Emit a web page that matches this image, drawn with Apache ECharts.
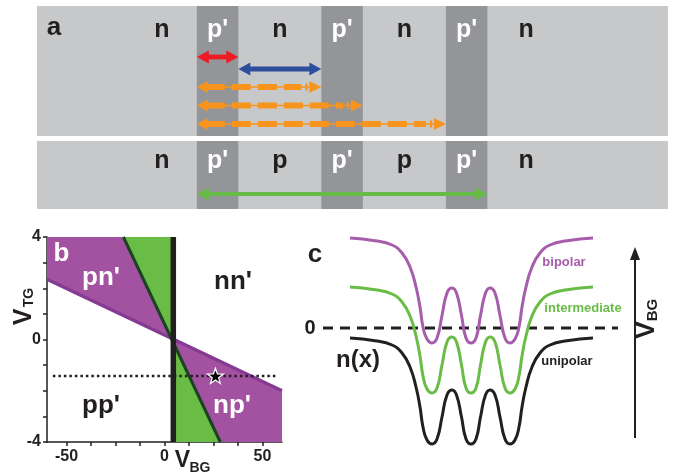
<!DOCTYPE html>
<html><head><meta charset="utf-8">
<script src="https://cdn.jsdelivr.net/npm/echarts@6/dist/echarts.min.js"></script>
<style>html,body{margin:0;padding:0;background:#fff}#c{width:673px;height:476px}</style>
</head><body><div id="c"></div>
<script>
// ---------- Panel a: device schematic (x in units of barrier width, y in rows) ----------
const devBars = [[-3.85, 11.35, 0, 13.0], [-3.85, 11.35, 13.5, 20.3]];
const devStripes = [[0, 1], [3, 4], [6, 7]];
const rowTopLabels = ['n', "p'", 'n', "p'", 'n', "p'", 'n'];
const rowBottomLabels = ['n', "p'", 'p', "p'", 'p', "p'", 'n'];
const labelX = [-0.84, 0.5, 2.0, 3.5, 5.0, 6.5, 7.93];
const labelRowY = [2.4, 15.5];
const solidArrows = [[0, 1, 5.1], [1, 3, 6.3], [0, 7, 18.8]];
const solidArrowColors = ['#ed1c24', '#2d4d9d', '#66bb46'];
const dashedArrows = [[0, 3, 8.1], [0, 4, 9.95], [0, 6, 11.8]];

// ---------- Panel b: phase diagram V_TG vs V_BG ----------
const vbgTicks = [-50, -37.5, -25, -12.5, 0, 12.5, 25, 37.5, 50];
const vbgLabels = [-50, 0, 50];
const vtgLabels = [4, 0, -4];
const blackLine = [[4.5, -4], [4.5, 4]];
const greenBoundary = [[-21, 4], [28.5, -4]];
const purpleBoundary = [[-60, 2.35], [60, -2.0]];
const purpleRegions = [
  [[-60, 4], [-21, 4], [3.4, 0.05], [-60, 2.35]],
  [[3.4, 0.05], [60, -2.0], [60, -4], [28.5, -4]]
];
const greenRegions = [
  [[-21, 4], [4.5, 4], [4.5, -0.12], [3.4, 0.05]],
  [[4.5, -0.12], [4.5, -4], [28.5, -4]]
];
const cutLine = [[-57, -1.42], [58, -1.42]];
const starPoint = [26, -1.42];

// ---------- Panel c: density profiles n(x) ----------
const profileX = [6.0, 8.5, 10.2, 11.2, 12.0, 12.6, 13.0, 13.3, 13.7, 14.2,
  14.7, 15.2, 15.7, 16.2, 16.65, 17.15, 17.6, 18.1, 18.6, 19.05, 19.55, 20.0, 20.5, 21.0, 21.5, 22.0,
  22.5, 22.9, 23.2, 23.6, 24.2, 25.0, 26.0, 27.7, 30.3];
const unipolar = [-1.0, -1.27, -1.7, -2.5, -3.9, -5.9, -7.9, -9.9, -11.2, -11.6,
  -11.1, -8.9, -6.7, -6.2, -6.7, -8.9, -11.1, -11.6, -11.1, -8.9, -6.7, -6.2, -6.7, -8.9, -11.1, -11.6,
  -11.2, -9.9, -7.9, -5.9, -3.9, -2.5, -1.7, -1.27, -1.0];
const intermediate = [4.1, 3.83, 3.4, 2.6, 1.2, -0.8, -2.8, -4.8, -6.1, -6.5,
  -6.0, -3.7, -1.4, -0.9, -1.4, -3.7, -6.0, -6.5, -6.0, -3.7, -1.4, -0.9, -1.4, -3.7, -6.0, -6.5,
  -6.1, -4.8, -2.8, -0.8, 1.2, 2.6, 3.4, 3.83, 4.1];
const bipolar = [9.0, 8.73, 8.3, 7.5, 6.1, 4.1, 2.1, 0.1, -1.1, -1.5,
  -1.0, 1.25, 3.5, 4.0, 3.5, 1.25, -1.0, -1.5, -1.0, 1.25, 3.5, 4.0, 3.5, 1.25, -1.0, -1.5,
  -1.1, 0.1, 2.1, 4.1, 6.1, 7.5, 8.3, 8.73, 9.0];
const zeroLine = [[3.3, 0], [32.8, 0]];
const vbgArrow = [[34.5, -11.0], [34.5, 8.1]];

// ---------- rendering ----------
const FONT = '"Liberation Sans", Arial, Helvetica, sans-serif';
const BLK = '#231f20';
const PURPLE_FILL = '#a252a0', PURPLE_LINE = '#853a93', GREEN = '#69bc45', DKGREEN = '#1b4322';
const CURVE_PURPLE = '#a65dab';

const stripeRects = [];
devBars.forEach(b => devStripes.forEach(s => stripeRects.push([s[0], s[1], b[2], b[3]])));
const devLabels = [];
[rowTopLabels, rowBottomLabels].forEach((row, r) => row.forEach((t, i) => devLabels.push({t: t, x: labelX[i], y: labelRowY[r]})));

function rectRender(list, fill) {
  return function (params, api) {
    const d = list[params.dataIndex];
    const p0 = api.coord([d[0], d[2]]), p1 = api.coord([d[1], d[3]]);
    return {type: 'rect', shape: {x: Math.min(p0[0], p1[0]), y: Math.min(p0[1], p1[1]),
      width: Math.abs(p1[0] - p0[0]), height: Math.abs(p1[1] - p0[1])}, style: {fill: fill}};
  };
}
function polyRender(list, fill) {
  return function (params, api) {
    const pts = list[params.dataIndex].map(p => api.coord(p));
    return {type: 'polygon', shape: {points: pts}, style: {fill: fill}};
  };
}
function solidArrowRender(params, api) {
  const d = solidArrows[params.dataIndex], c = solidArrowColors[params.dataIndex];
  const p0 = api.coord([d[0], d[2]]), p1 = api.coord([d[1], d[2]]);
  const y = p0[1], x0 = p0[0], x1 = p1[0];
  const hl = 12, hh = 6.5, sw = params.dataIndex === 2 ? 2 : 2.4;
  return {type: 'group', children: [
    {type: 'rect', shape: {x: x0 + hl - 1, y: y - sw, width: x1 - x0 - 2 * hl + 2, height: 2 * sw}, style: {fill: c}},
    {type: 'polygon', shape: {points: [[x0, y], [x0 + hl, y - hh], [x0 + hl, y + hh]]}, style: {fill: c}},
    {type: 'polygon', shape: {points: [[x1, y], [x1 - hl, y - hh], [x1 - hl, y + hh]]}, style: {fill: c}}
  ]};
}
function dashedArrowRender(params, api) {
  const d = dashedArrows[params.dataIndex];
  const p0 = api.coord([d[0], d[2]]), p1 = api.coord([d[1], d[2]]);
  const y = p0[1], x0 = p0[0], x1 = p1[0];
  const c = '#f7941d';
  return {type: 'group', children: [
    {type: 'line', shape: {x1: x0 + 10, y1: y, x2: x1 - 12, y2: y}, style: {stroke: c, lineWidth: 1.3}},
    {type: 'line', shape: {x1: x0 + 9, y1: y, x2: x1 - 20, y2: y}, style: {stroke: c, lineWidth: 6, lineDash: [19, 7]}},
    {type: 'polygon', shape: {points: [[x0, y], [x0 + 11, y - 6], [x0 + 11, y + 6]]}, style: {fill: c}},
    {type: 'rect', shape: {x: x1 - 16, y: y - 3.5, width: 2.2, height: 7}, style: {fill: c}},
    {type: 'polygon', shape: {points: [[x1, y], [x1 - 12, y - 6], [x1 - 12, y + 6]]}, style: {fill: c}}
  ]};
}
function devLabelRender(params, api) {
  const d = devLabels[params.dataIndex];
  const p = api.coord([d.x, d.y]);
  return {type: 'text', x: p[0], y: p[1], style: {text: d.t, fill: d.t === "p'" ? '#ffffff' : BLK,
    font: 'bold 25px ' + FONT, align: 'center', verticalAlign: 'middle', textAlign: 'center', textVerticalAlign: 'middle'}};
}
function vArrowRender(params, api) {
  const p0 = api.coord(vbgArrow[0]), p1 = api.coord(vbgArrow[1]);
  const x = p0[0];
  return {type: 'group', children: [
    {type: 'line', shape: {x1: x, y1: p0[1], x2: x, y2: p1[1] + 10}, style: {stroke: BLK, lineWidth: 2}},
    {type: 'polygon', shape: {points: [[x, p1[1]], [x - 5, p1[1] + 13], [x + 5, p1[1] + 13]]}, style: {fill: BLK}}
  ]};
}

function txt(t, x, y, size, fill, extra) {
  return Object.assign({type: 'text', x: x, y: y, z: 100, style: {text: t, fill: fill || BLK, font: 'bold ' + size + 'px ' + FONT,
    align: 'center', verticalAlign: 'middle', textAlign: 'center', textVerticalAlign: 'middle'}}, extra || {});
}

const chart = echarts.init(document.getElementById('c'), null, {width: 673, height: 476});
const axisLineStyle = {color: BLK, width: 1.5};
chart.setOption({
  animation: false,
  backgroundColor: '#ffffff',
  grid: [
    {left: 37, top: 6, width: 631, height: 203, containLabel: false, outerBoundsMode: 'none'},
    {left: 47, top: 237, width: 235, height: 205, containLabel: false, outerBoundsMode: 'none'},
    {left: 290, top: 218, width: 383, height: 240, containLabel: false, outerBoundsMode: 'none'}
  ],
  xAxis: [
    {gridIndex: 0, type: 'value', min: -3.85, max: 11.35, show: false},
    {gridIndex: 1, type: 'value', min: -60, max: 60,
      axisLine: {show: true, onZero: false, lineStyle: axisLineStyle},
      axisTick: {show: true, customValues: vbgTicks, length: 4, lineStyle: axisLineStyle},
      axisLabel: {show: true, customValues: vbgLabels, color: BLK, fontFamily: FONT, fontWeight: 'bold', fontSize: 16, margin: 7},
      splitLine: {show: false}},
    {gridIndex: 2, type: 'value', min: 0, max: 38.3, show: false}
  ],
  yAxis: [
    {gridIndex: 0, type: 'value', min: 0, max: 20.3, inverse: true, show: false},
    {gridIndex: 1, type: 'value', min: -4, max: 4, interval: 1,
      axisLine: {show: true, onZero: false, lineStyle: axisLineStyle},
      axisTick: {show: true, length: 4, lineStyle: axisLineStyle},
      axisLabel: {show: true, showMinLabel: true, showMaxLabel: true, hideOverlap: false,
        formatter: v => vtgLabels.indexOf(v) >= 0 ? String(v) : '',
        color: BLK, fontFamily: FONT, fontWeight: 'bold', fontSize: 16, margin: 6},
      splitLine: {show: false}},
    {gridIndex: 2, type: 'value', min: -13, max: 11, show: false}
  ],
  series: [
    // panel a
    {type: 'custom', xAxisIndex: 0, yAxisIndex: 0, silent: true, clip: false, z: 1,
      data: devBars.map(b => [b[0], b[2]]), renderItem: rectRender(devBars, '#c7c8ca')},
    {type: 'custom', xAxisIndex: 0, yAxisIndex: 0, silent: true, clip: false, z: 2,
      data: stripeRects.map(b => [b[0], b[2]]), renderItem: rectRender(stripeRects, '#939598')},
    {type: 'custom', xAxisIndex: 0, yAxisIndex: 0, silent: true, clip: false, z: 3,
      data: devLabels.map(d => [d.x, d.y]), renderItem: devLabelRender},
    {type: 'custom', xAxisIndex: 0, yAxisIndex: 0, silent: true, clip: false, z: 3,
      data: solidArrows.map(d => [d[0], d[2]]), renderItem: solidArrowRender},
    {type: 'custom', xAxisIndex: 0, yAxisIndex: 0, silent: true, clip: false, z: 3,
      data: dashedArrows.map(d => [d[0], d[2]]), renderItem: dashedArrowRender},
    // panel b
    {type: 'custom', xAxisIndex: 1, yAxisIndex: 1, silent: true, z: 1,
      data: purpleRegions.map(r => r[0]), renderItem: polyRender(purpleRegions, PURPLE_FILL)},
    {type: 'custom', xAxisIndex: 1, yAxisIndex: 1, silent: true, z: 1,
      data: greenRegions.map(r => r[0]), renderItem: polyRender(greenRegions, GREEN)},
    {type: 'line', xAxisIndex: 1, yAxisIndex: 1, data: purpleBoundary, showSymbol: false, silent: true, z: 2,
      lineStyle: {color: PURPLE_LINE, width: 3.5}},
    {type: 'line', xAxisIndex: 1, yAxisIndex: 1, data: greenBoundary, showSymbol: false, silent: true, z: 3,
      lineStyle: {color: DKGREEN, width: 3}},
    {type: 'line', xAxisIndex: 1, yAxisIndex: 1, data: blackLine, showSymbol: false, silent: true, z: 4,
      lineStyle: {color: BLK, width: 5.5}},
    {type: 'line', xAxisIndex: 1, yAxisIndex: 1, data: cutLine, showSymbol: false, silent: true, z: 5,
      lineStyle: {color: BLK, width: 2.5, type: [2.5, 3]}},
    {type: 'scatter', xAxisIndex: 1, yAxisIndex: 1, data: [starPoint], silent: true, z: 6,
      symbol: 'path://M0,-10 L2.35,-3.24 L9.51,-3.09 L3.8,1.24 L5.88,8.09 L0,4 L-5.88,8.09 L-3.8,1.24 L-9.51,-3.09 L-2.35,-3.24 Z',
      symbolSize: 16, symbolKeepAspect: true, itemStyle: {color: '#000000', opacity: 1, borderColor: '#ffffff', borderWidth: 1.2}},
    // panel c
    {type: 'line', xAxisIndex: 2, yAxisIndex: 2, data: zeroLine, showSymbol: false, silent: true, z: 2,
      lineStyle: {color: BLK, width: 3, type: [10, 7]}},
    {type: 'line', xAxisIndex: 2, yAxisIndex: 2, data: profileX.map((x, i) => [x, unipolar[i]]), showSymbol: false,
      silent: true, smooth: 0.5, z: 3, lineStyle: {color: BLK, width: 3}},
    {type: 'line', xAxisIndex: 2, yAxisIndex: 2, data: profileX.map((x, i) => [x, intermediate[i]]), showSymbol: false,
      silent: true, smooth: 0.5, z: 3, lineStyle: {color: GREEN, width: 3}},
    {type: 'line', xAxisIndex: 2, yAxisIndex: 2, data: profileX.map((x, i) => [x, bipolar[i]]), showSymbol: false,
      silent: true, smooth: 0.5, z: 3, lineStyle: {color: CURVE_PURPLE, width: 3}},
    {type: 'custom', xAxisIndex: 2, yAxisIndex: 2, silent: true, clip: false, z: 3,
      data: [vbgArrow[0]], renderItem: vArrowRender}
  ],
  graphic: {elements: [
    txt('a', 54, 28, 26),
    txt('b', 61.5, 254, 26, '#ffffff'),
    txt("pn'", 101, 278, 26, '#ffffff'),
    txt("nn'", 233, 282, 26),
    txt("pp'", 101, 406, 26),
    txt("np'", 232, 406, 26, '#ffffff'),
    {type: 'group', x: 24, y: 317, rotation: Math.PI / 2, z: 100, children: [
      txt('V', 0, 0, 25), txt('TG', 19.5, 5, 14)]},
    txt('V', 182.5, 461, 23), txt('BG', 200, 468, 14),
    txt('c', 315, 254.5, 26),
    txt('0', 310, 328, 20),
    txt('n(x)', 358, 360, 24),
    txt('bipolar', 564, 262.5, 13, CURVE_PURPLE),
    txt('intermediate', 583, 308, 13, GREEN),
    txt('unipolar', 567, 361.5, 13),
    {type: 'group', x: 647, y: 330, rotation: Math.PI / 2, z: 100, children: [
      txt('V', 0, 0, 26), txt('BG', 20, 6, 15)]}
  ]}
});
</script>
</body></html>
